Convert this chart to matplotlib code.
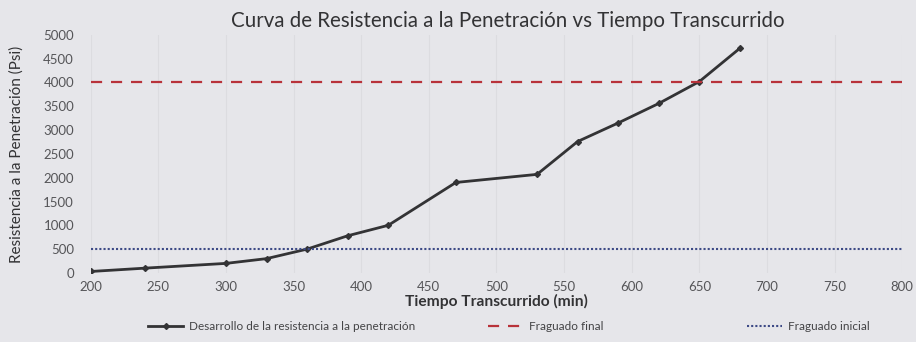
import numpy as np
import matplotlib.pyplot as plt

plt.rcParams['font.family'] = ['Lato', 'DejaVu Sans']

# tiempo transcurrido (min) y resistencia a la penetracion (psi)
tiempo = [200, 240, 300, 330, 360, 390, 420, 470, 530, 560, 590, 620, 650, 680]
resistencia = [30, 100, 200, 300, 500, 780, 1000, 1900, 2070, 2760, 3150, 3560, 4020, 4720]

# limites de fraguado
t_limites = [200, 800]
fraguado_final = [4000, 4000]
fraguado_inicial = [500, 500]

fondo = '#e6e6ea'
fig = plt.figure(figsize=(9.16, 3.42), dpi=100, facecolor=fondo)
ax = fig.add_axes([0.099, 0.202, 0.886, 0.696], facecolor=fondo)

l1, = ax.plot(tiempo, resistencia, color='#333335', lw=2.0, marker='D', ms=3,
              label='Desarrollo de la resistencia a la penetración')
l2, = ax.plot(t_limites, fraguado_final, color='#b8323a', lw=1.6, ls=(0, (5, 4)),
              label='Fraguado final')
l3, = ax.plot(t_limites, fraguado_inicial, color='#3d4a86', lw=1.5, ls=(0, (1, 1)),
              label='Fraguado inicial')

ax.set_xlim(200, 800)
ax.set_ylim(0, 5000)
ax.set_xticks(np.arange(200, 801, 50))
ax.set_yticks(np.arange(0, 5001, 500))
ax.grid(axis='x', color='#dcdce0', lw=0.8)
ax.tick_params(length=0, labelsize=9.5, colors='#555558')
ax.tick_params(axis='x', pad=6)
ax.tick_params(axis='y', pad=12)
for s in ax.spines.values():
    s.set_visible(False)

ax.set_title('Curva de Resistencia a la Penetración vs Tiempo Transcurrido',
             fontsize=14.8, color='#333335', pad=6, x=0.514)
ax.set_xlabel('Tiempo Transcurrido (min)', fontsize=11.2, color='#333335',
              fontweight='bold', labelpad=0.5)
ax.set_ylabel('Resistencia a la Penetración (Psi)', fontsize=11, color='#333335',
              labelpad=14)

# una leyenda por serie, repartidas a lo ancho del pie
for h, x0 in [(l1, 148), (l2, 488), (l3, 747)]:
    fig.legend(handles=[h], loc='center left', bbox_to_anchor=(x0 / 916, 0.044),
               frameon=False, fontsize=8.5, handlelength=3.0, handletextpad=0.5,
               borderpad=0, borderaxespad=0, labelcolor='#444446')

fig.savefig('out.png', dpi=100, facecolor=fondo)
